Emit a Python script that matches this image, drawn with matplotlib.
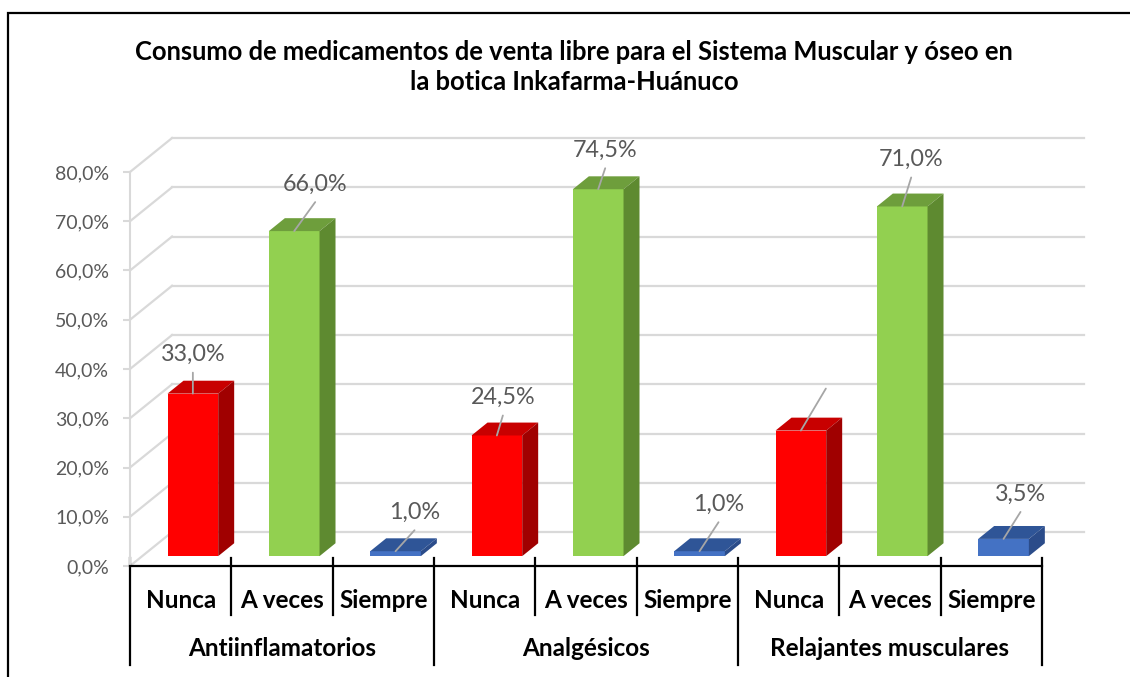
import matplotlib
matplotlib.use("Agg")
import matplotlib.pyplot as plt
from matplotlib.patches import Polygon, Rectangle

plt.rcParams['font.family'] = ['Lato', 'DejaVu Sans']

# data
groups = ['Antiinflamatorios', 'Analgésicos', 'Relajantes musculares']
levels = ['Nunca', 'A veces', 'Siempre']
values = [33.0, 66.0, 1.0, 24.5, 74.5, 1.0, 25.5, 71.0, 3.5]
show_label = [True, True, True, True, True, True, False, True, True]
yticks = [0, 10, 20, 30, 40, 50, 60, 70, 80]

title = ('Consumo de medicamentos de venta libre para el Sistema Muscular y óseo en\n'
         'la botica Inkafarma-Huánuco')

# styles
front_cols = {'Nunca': '#FF0000', 'A veces': '#92D050', 'Siempre': '#4472C4'}
top_cols = {'Nunca': '#C80000', 'A veces': '#6E9E3C', 'Siempre': '#2F5597'}
side_cols = {'Nunca': '#A00000', 'A veces': '#5E8A30', 'Siempre': '#2B4C8A'}
# label offsets (pixels) from top of each bar's front face
label_off = [(0, -39), (21, -47), (19, -39), (6, -38), (7, -39),
             (19, -47), (25, -60), (9, -47), (17, -45)]

GRID = '#D9D9D9'
TXT = '#595959'

# 3d look: full depth of the floor and the bar slab inside it
DX, DY = 0.415, 6.9
F0, F1 = 0.29, 0.38
W = 0.5

fig = plt.figure(figsize=(11.30, 6.77), dpi=100)
ax = fig.add_axes([130 / 1130, 111 / 677, 912 / 1130, 394 / 677])
ax.set_xlim(0, 9)
ax.set_ylim(0, 80)
ax.patch.set_alpha(0)

for s in ['top', 'right', 'bottom']:
    ax.spines[s].set_visible(False)
ax.spines['left'].set_color(GRID)
ax.spines['left'].set_linewidth(1.5)
ax.set_xticks([])
ax.set_yticks(yticks)
ax.set_yticklabels([f'{v:.1f}%'.replace('.', ',') for v in yticks])
ax.tick_params(axis='y', length=5, width=1.5, color=GRID, labelcolor=TXT,
               labelsize=14, pad=10)

# back wall and left wall
for v in yticks:
    ax.plot([DX, 9 + DX], [v + DY, v + DY], color=GRID, lw=1.6, clip_on=False, zorder=0)
    ax.plot([0, DX], [v, v + DY], color=GRID, lw=1.6, clip_on=False, zorder=0)

# bars
n = len(values)
xs = [i + 0.5 + F0 * DX for i in range(n)]
cats = [levels[i % 3] for i in range(n)]
base = F0 * DY
ax.bar(xs, values, width=W, bottom=base, color=[front_cols[c] for c in cats],
       zorder=3, clip_on=False)
for x, v, c in zip(xs, values, cats):
    x0, x1 = x - W / 2, x + W / 2
    top = base + v
    ddx, ddy = F1 * DX, F1 * DY
    ax.add_patch(Polygon([(x0, top), (x1, top), (x1 + ddx, top + ddy), (x0 + ddx, top + ddy)],
                         closed=True, fc=top_cols[c], ec='none', zorder=3, clip_on=False))
    ax.add_patch(Polygon([(x1, base), (x1 + ddx, base + ddy), (x1 + ddx, top + ddy), (x1, top)],
                         closed=True, fc=side_cols[c], ec='none', zorder=3, clip_on=False))

# data labels with leader lines
for x, v, show, (ox, oy) in zip(xs, values, show_label, label_off):
    anchor = (x, base + v)
    ax.annotate('', xy=anchor, xytext=(ox, -(oy + 18)), textcoords='offset pixels',
                arrowprops=dict(arrowstyle='-', color='#A6A6A6', lw=1.3,
                                shrinkA=0, shrinkB=0), zorder=4)
    if show:
        ax.annotate(f'{v:.1f}%'.replace('.', ','), xy=anchor, xytext=(ox, -oy),
                    textcoords='offset pixels', ha='center', va='center',
                    color=TXT, fontsize=16.8, zorder=5)

# category axis (two levels)
tr = ax.get_xaxis_transform()
ax.plot([0, 9], [0, 0], color='black', lw=1.6, transform=tr, clip_on=False, zorder=6)
for k in range(n + 1):
    bottom = -0.251 if k % 3 == 0 else -0.124
    ax.plot([k, k], [0.02, bottom], color='black', lw=1.6, transform=tr, clip_on=False)
for i, c in enumerate(cats):
    ax.text(i + 0.5, -0.0863, c, transform=tr, ha='center', va='center',
            fontsize=17.5, fontweight='bold', color='black')
for g, name in enumerate(groups):
    ax.text(g * 3 + 1.5, -0.21, name, transform=tr, ha='center', va='center',
            fontsize=17.5, fontweight='bold', color='black')

fig.text(574 / 1130, 1 - 67 / 677, title, ha='center', va='center', fontsize=18.4,
         fontweight='bold', color='black', linespacing=1.3)

# outer frame of the chart area
fig.patches.append(Rectangle((8 / 1130, -0.1), 1.2, 1.1 - 13 / 677,
                             transform=fig.transFigure, fill=False, ec='black', lw=1.6))

fig.savefig('out.png', dpi=100)
